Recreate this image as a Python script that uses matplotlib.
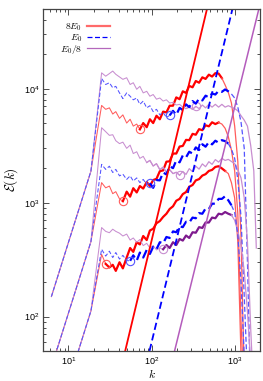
import matplotlib

matplotlib.use("Agg")
import matplotlib.pyplot as plt  # noqa: E402
from matplotlib.lines import Line2D  # noqa: E402

plt.rcParams["font.family"] = ["Liberation Sans", "DejaVu Sans"]

# low-k part of the spectra (one per group: upper, middle, lower)
K_LOW = [6.24, 11, 18.6]
E_LOW_U = [150, 560, 1890]
E_LOW_M = [36, 134, 455]
E_LOW_L = [8.6, 33, 112]

# shared wavenumber grid above the forcing jump
K = [25, 28, 31, 34, 37, 41, 45, 50, 55, 60, 66, 72, 79, 87, 95, 104, 114, 125,
     137, 150, 164, 180, 197, 216, 236, 258, 282, 309, 338, 370, 405, 443, 485,
     530, 580, 635, 695, 760, 830, 905, 990, 1080, 1180, 1290, 1410, 1540, 1680, 1800]

# upper group
E_U_8E0 = [7140, 6600, 6800, 6000, 6300, 5500, 5900, 5000, 5400, 4700, 4900, 4400,
           5000, 4600, 5400, 5000, 5800, 5400, 6300, 6200, 7100, 7100, 8400, 8100,
           9500, 9200, 10600, 10300, 11700, 11300, 12600, 12200, 13300, 12800, 13700,
           13600, 12400, 10800, 9300, 7500, 4700, 2300, 500, 30]
E_U_E0 = [12300, 10900, 11300, 10200, 10500, 9200, 8200, 9200, 8600, 8000, 8300, 7300,
          7800, 6800, 7100, 6300, 6600, 5900, 6200, 5600, 5840,
          6400, 5900, 6800, 6500, 7300, 6900, 7800, 7400, 8200, 7900, 8700, 8400, 9100,
          8900, 9600, 9400, 9860, 9500, 9000, 8300, 6900, 5100, 3000, 300, 20]
E_U_E08 = [13800, 12900, 13600, 14300, 13400, 12700, 12100, 12500, 10900, 11300, 9900,
           10500, 9200, 9500, 8600, 8900, 8100, 8300, 7800, 8000, 7500, 7600, 7200, 7300,
           6900, 6700, 6900, 6600, 7000,
           6700, 7200, 6800, 7300, 6900, 7300, 6900, 7300, 6900, 7100, 6900, 6700, 6400,
           5800, 5300, 4700, 3200, 1900, 400]

# middle group
E_M_8E0 = [1500, 1350, 1400, 1200, 1250, 1080, 1030,
           1250, 1130, 1340, 1230, 1400, 1330, 1520, 1400, 1580, 1620, 1890, 1920, 2290,
           2310, 2700, 2700, 3110, 3150, 3560, 3540, 4020, 3950, 4420, 4330, 4780, 4680,
           5080, 4900, 5060, 4900, 4500, 3800, 2900, 1900, 800, 90, 20]
E_M_E0 = [2170, 1960, 2090, 1840, 1960, 1720, 1780, 1600, 1720, 1550, 1650, 1500, 1600,
          1450, 1480,
          1350, 1580, 1570, 1840, 1770, 2090, 2010, 2350, 2260, 2600, 2500, 2800, 2700,
          3060, 2900, 3260, 3100, 3410, 3250, 3500, 3360, 3540, 3470, 3300, 2950, 2450,
          1600, 750, 150, 30]
E_M_E08 = [4550, 4200, 3900, 3950, 3500, 3300, 3400, 3000, 3200, 2700, 2800, 2450, 2550,
           2250, 2350, 2100, 2200, 1950, 2050, 1850, 1950, 1800, 1850, 1740,
           1880, 1770, 1990, 1870, 2090, 1970, 2190, 2070, 2290, 2170, 2390, 2270, 2450,
           2350, 2400, 2300, 2200, 1950, 1650, 1100, 450, 80, 20]

# lower group
E_L_8E0 = [352, 290,
           270, 285, 252, 300, 265, 330, 400, 370, 450, 430, 510, 470, 570, 590, 660, 690,
           750, 800, 880, 930, 1040, 1080, 1190, 1240, 1380, 1430, 1570, 1610, 1730, 1780,
           1900, 1940, 2060, 2090, 2000, 1900, 1800, 1500, 1100, 450, 45]
E_L_E0 = [390, 340, 375, 330, 365, 320, 345, 310, 309,
          345, 310, 365, 330, 385, 355, 410, 390, 450, 440, 500, 490, 560, 550, 620, 610,
          680, 670, 740, 730, 810, 800, 890, 880, 980, 980, 1080, 1080, 1140, 1050, 950,
          820, 520, 200, 45]
E_L_E08 = [605, 560, 545, 585, 560, 540, 510, 530, 470, 490, 450, 475, 420, 440, 400, 420,
           385, 400, 390,
           425, 400, 450, 425, 480, 465, 515, 490, 550, 545, 610, 600, 670, 670, 740, 730,
           800, 790, 828, 800, 780, 700, 560, 420, 250, 110, 40]

# wavenumber of the circle marker (thin before, thick after)
CIRCLE_K = {"U8": 72, "UE": 164, "U/": 338,
            "M8": 45, "ME": 95, "M/": 216,
            "L8": 28, "LE": 55, "L/": 137}

# k^3 reference lines, read where they cross the frame
REF_8E0_K, REF_8E0_E = [48, 460], [50, 50000]
REF_E0_K, REF_E0_E = [94, 930], [50, 50000]
REF_E08_K, REF_E08_E = [188, 1930], [50, 50000]

LABELS = [r"$8E_0$", r"$E_0$", r"$E_0/8$"]

RED_THIN, RED = "#ff5c5c", "#ff0000"
BLUE_THIN, BLUE = "#5454ff", "#0000ff"
PURP_THIN, PURP = "#c88ed0", "#7e1a8e"
DASH = (4, 2)

fig = plt.figure(figsize=(2.63, 3.81), dpi=100)
ax = fig.add_axes([0.165, 0.079, 0.824, 0.897])
ax.set_xscale("log")
ax.set_yscale("log")


def draw(elow, e, key, thin, thick, dashed):
    ks = K_LOW + K[:len(e)]
    es = elow + e
    i = len(K_LOW) + K.index(CIRCLE_K[key])
    pk = es.index(max(es[i:])) + 2
    kw = dict(dashes=DASH) if dashed else {}
    ax.plot(ks[:i + 1], es[:i + 1], color=thin, lw=0.75, **kw)
    ax.plot(ks[i:pk + 1], es[i:pk + 1], color=thick, lw=1.6, **kw)
    ax.plot(ks[pk:], es[pk:], color=thin, lw=0.9, **kw)
    ax.plot([ks[i]], [es[i]], "o", mfc="none", mec=thin, ms=6, mew=0.8)


for grp, elow in (("U", E_LOW_U), ("M", E_LOW_M), ("L", E_LOW_L)):
    e8, e0, e08 = {"U": (E_U_8E0, E_U_E0, E_U_E08),
                   "M": (E_M_8E0, E_M_E0, E_M_E08),
                   "L": (E_L_8E0, E_L_E0, E_L_E08)}[grp]
    draw(elow, e8, grp + "8", RED_THIN, RED, False)
    draw(elow, e08, grp + "/", PURP_THIN, PURP, False)
    draw(elow, e0, grp + "E", BLUE_THIN, BLUE, True)

ax.plot(REF_8E0_K, REF_8E0_E, color=RED, lw=1.3)
ax.plot(REF_E0_K, REF_E0_E, color=BLUE, lw=1.3, dashes=DASH)
ax.plot(REF_E08_K, REF_E08_E, color="#b45cbc", lw=1.1)

ax.set_xlim(5, 2000)
ax.set_ylim(50, 50000)

for s in ax.spines.values():
    s.set_color("#444444")
    s.set_linewidth(0.9)
ax.tick_params(which="both", direction="in", top=True, right=True,
               labelsize=6.5, width=0.6, colors="#333333", labelcolor="black")
ax.tick_params(which="major", length=4, pad=3)
ax.tick_params(which="minor", length=2)

ax.set_xlabel(r"$k$", fontsize=8.5, math_fontfamily="cm", labelpad=1)
ax.set_ylabel(r"$\mathcal{E}(k)$", fontsize=9.5, math_fontfamily="cm", labelpad=3)

handles = [Line2D([], [], color="#ff6a6a", lw=1.6),
           Line2D([], [], color=BLUE, lw=0.9, dashes=DASH),
           Line2D([], [], color="#b468bc", lw=0.9)]
ax.legend(handles, LABELS, loc="upper left", bbox_to_anchor=(0.075, 0.963),
          frameon=False, markerfirst=False, handlelength=2.4, handletextpad=0.5,
          labelspacing=-0.12, borderaxespad=0, borderpad=0,
          prop={"size": 6.9, "math_fontfamily": "cm"})

fig.savefig("out.png", dpi=100)
